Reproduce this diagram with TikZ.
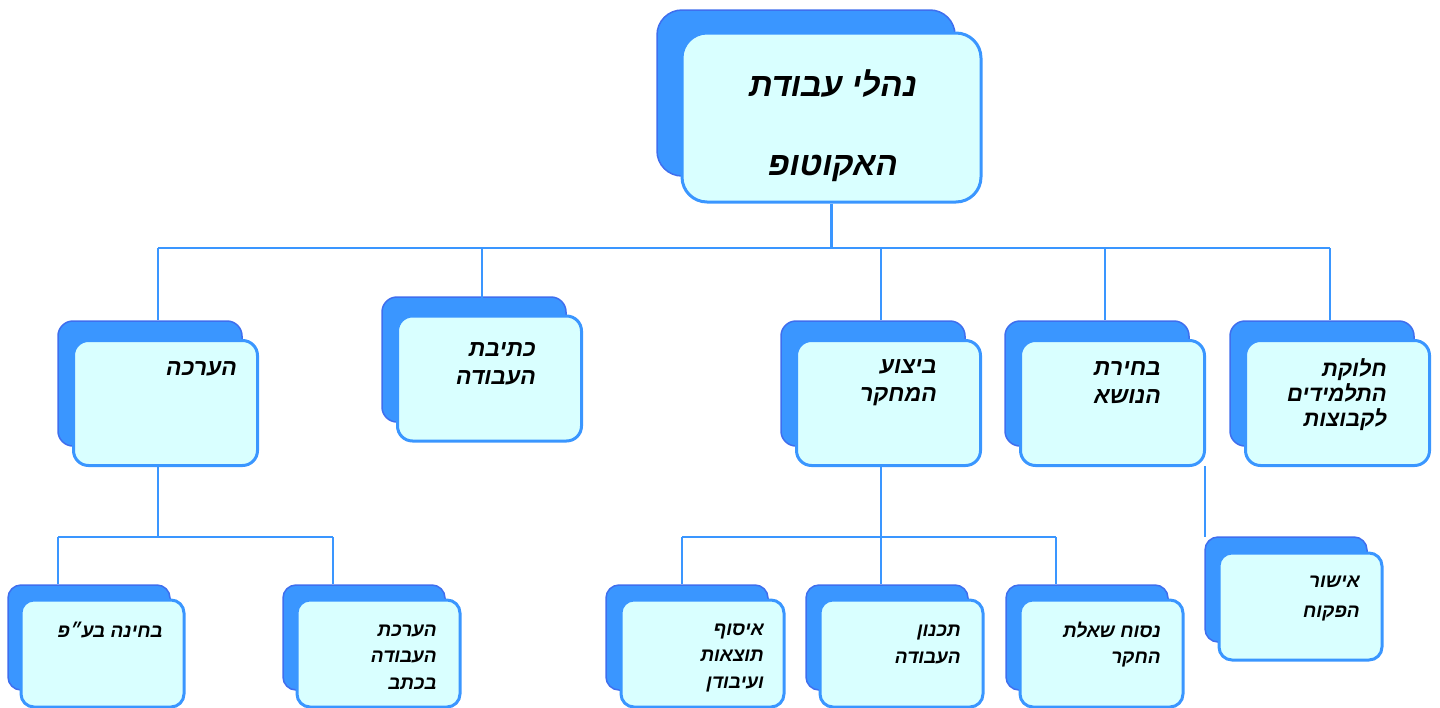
\documentclass[tikz,border=0pt]{standalone}
\usepackage{fontspec}
\newfontfamily\heb[Script=Hebrew]{Liberation Sans}
\TeXXeTstate=1
\definecolor{backfill}{HTML}{3A96FF}
\definecolor{backline}{HTML}{3F6EEE}
\definecolor{frontfill}{HTML}{D9FFFF}
\definecolor{frontline}{HTML}{3A96FF}
\definecolor{conncol}{HTML}{3A96FF}
\tikzset{
  backbox/.style={rectangle, draw=backline, fill=backfill, line width=1.5pt, inner sep=0pt},
  frontbox/.style={rectangle, draw=frontline, fill=frontfill, line width=3pt, inner sep=0pt},
  lvA/.style={minimum width=184pt, minimum height=125pt, rounded corners=15pt},
  lvB/.style={minimum width=162pt, minimum height=105pt, rounded corners=13pt},
  conn/.style={draw=conncol, line width=1.5pt},
  txtA/.style={anchor=east, inner sep=0pt, align=right, font=\heb\bfseries\itshape\fontsize{23}{28}\selectfont},
  txtB/.style={anchor=east, inner sep=0pt, align=right, font=\heb\bfseries\itshape\fontsize{19}{26.5}\selectfont},
}
\begin{document}
\begin{tikzpicture}[x=1pt,y=-1pt]
\useasboundingbox (0,0) rectangle (1440,707);
% back boxes
\node[backbox, minimum width=298pt, minimum height=166pt, rounded corners=25pt] (rb) at (806,93) {};
\node[backbox, lvA] (b1) at (150,383.5) {};
\node[backbox, lvA] (b2) at (474,359.5) {};
\node[backbox, lvA] (b3) at (873,383.5) {};
\node[backbox, lvA] (b4) at (1097,383.5) {};
\node[backbox, lvA] (b5) at (1322,383.5) {};
\node[backbox, lvB] (c1) at (89,637.5) {};
\node[backbox, lvB] (c2) at (364,637.5) {};
\node[backbox, lvB] (c3) at (687,637.5) {};
\node[backbox, lvB] (c4) at (887,637.5) {};
\node[backbox, lvB] (c5) at (1087,637.5) {};
\node[backbox, lvB] (c6) at (1286,589.5) {};
% connectors
\coordinate (busL) at (158,248);
\coordinate (busR) at (1330,248);
\coordinate (dk) at (482,248);
\coordinate (db) at (881,248);
\coordinate (dc) at (1105,248);
\coordinate (j1) at (158,537);
\coordinate (j1L) at (58,537);
\coordinate (j1R) at (333,537);
\coordinate (j3) at (881,537);
\coordinate (j3L) at (682,537);
\coordinate (j3R) at (1056,537);
\coordinate (j4) at (1205,466);
\draw[conn] (busL) -- (busR);
\draw[conn] (busL) -- (busL |- b1.north);
\draw[conn] (dk) -- (482,318);
\draw[conn] (db) -- (db |- b3.north);
\draw[conn] (dc) -- (dc |- b4.north);
\draw[conn] (busR) -- (busR |- b5.north);
\draw[conn] (j1L) -- (j1R);
\draw[conn] (j1L) -- (j1L |- c1.north);
\draw[conn] (j1R) -- (j1R |- c2.north);
\draw[conn] (j3L) -- (j3R);
\draw[conn] (j3L) -- (j3L |- c3.north);
\draw[conn] (j3) -- (j3 |- c4.north);
\draw[conn] (j3R) -- (j3R |- c5.north);
\draw[conn] (j4) -- (j4 |- c6.north);
% front boxes
\node[frontbox, minimum width=299pt, minimum height=169pt, rounded corners=25pt] (root) at (831.5,117.5) {};
\node[frontbox, lvA] (f1) at (165.5,403) {};
\node[frontbox, lvA] (f2) at (489.5,378.5) {};
\node[frontbox, lvA] (f3) at (888.5,403) {};
\node[frontbox, lvA] (f4) at (1112.5,403) {};
\node[frontbox, lvA] (f5) at (1337.5,403) {};
\node[frontbox, lvB, minimum width=163pt, minimum height=107pt] (g1) at (102.5,653.5) {};
\node[frontbox, lvB, minimum width=163pt, minimum height=107pt] (g2) at (378.5,653.5) {};
\node[frontbox, lvB, minimum width=163pt, minimum height=107pt] (g3) at (702.5,653.5) {};
\node[frontbox, lvB, minimum width=163pt, minimum height=107pt] (g4) at (901.5,653.5) {};
\node[frontbox, lvB, minimum width=163pt, minimum height=107pt] (g5) at (1101.5,653.5) {};
\node[frontbox, lvB, minimum width=163pt, minimum height=107pt] (g6) at (1300.5,606.5) {};
\draw[conn, line width=3pt] (root.south) -- (root.south |- busL);
\draw[conn] (j1 |- f1.south) -- (j1);
\draw[conn] (j3 |- f3.south) -- (j3);
\draw[conn] (j4) -- (1205,537);
% texts
\node[inner sep=0pt, align=center, font=\heb\bfseries\itshape\fontsize{33}{79}\selectfont] (troot) at (833,126) {\beginR נהלי עבודת\endR\\\beginR האקוטופ\endR};
\node[txtA] (t1) at (237,369) {\beginR הערכה\endR};
\node[txtA] (t2) at (536,364) {\beginR כתיבת\endR\\\beginR העבודה\endR};
\node[txtA] (t3) at (937,382.5) {\beginR ביצוע\endR\\\beginR המחקר\endR};
\node[txtA] (t4) at (1161,382.5) {\beginR בחירת\endR\\\beginR הנושא\endR};
\node[txtA, font=\heb\bfseries\itshape\fontsize{22}{25}\selectfont] (t5) at (1387,394.5) {\beginR חלוקת\endR\\\beginR התלמידים\endR\\\beginR לקבוצות\endR};
\node[txtB] (s1) at (163,630) {\beginR בחינה בע״פ\endR};
\node[txtB] (s2) at (437,657) {\beginR הערכת\endR\\\beginR העבודה\endR\\\beginR בכתב\endR};
\node[txtB] (s3) at (764,658) {\beginR איסוף\endR\\\beginR תוצאות\endR\\\beginR ועיבודן\endR};
\node[txtB] (s4) at (961,644.5) {\beginR תכנון\endR\\\beginR העבודה\endR};
\node[txtB] (s5) at (1161,644.5) {\beginR נסוח שאלת\endR\\\beginR החקר\endR};
\node[txtB, font=\heb\bfseries\itshape\fontsize{19}{30}\selectfont] (s6) at (1360,598.5) {\beginR אישור\endR\\\beginR הפקוח\endR};
\end{tikzpicture}
\end{document}
